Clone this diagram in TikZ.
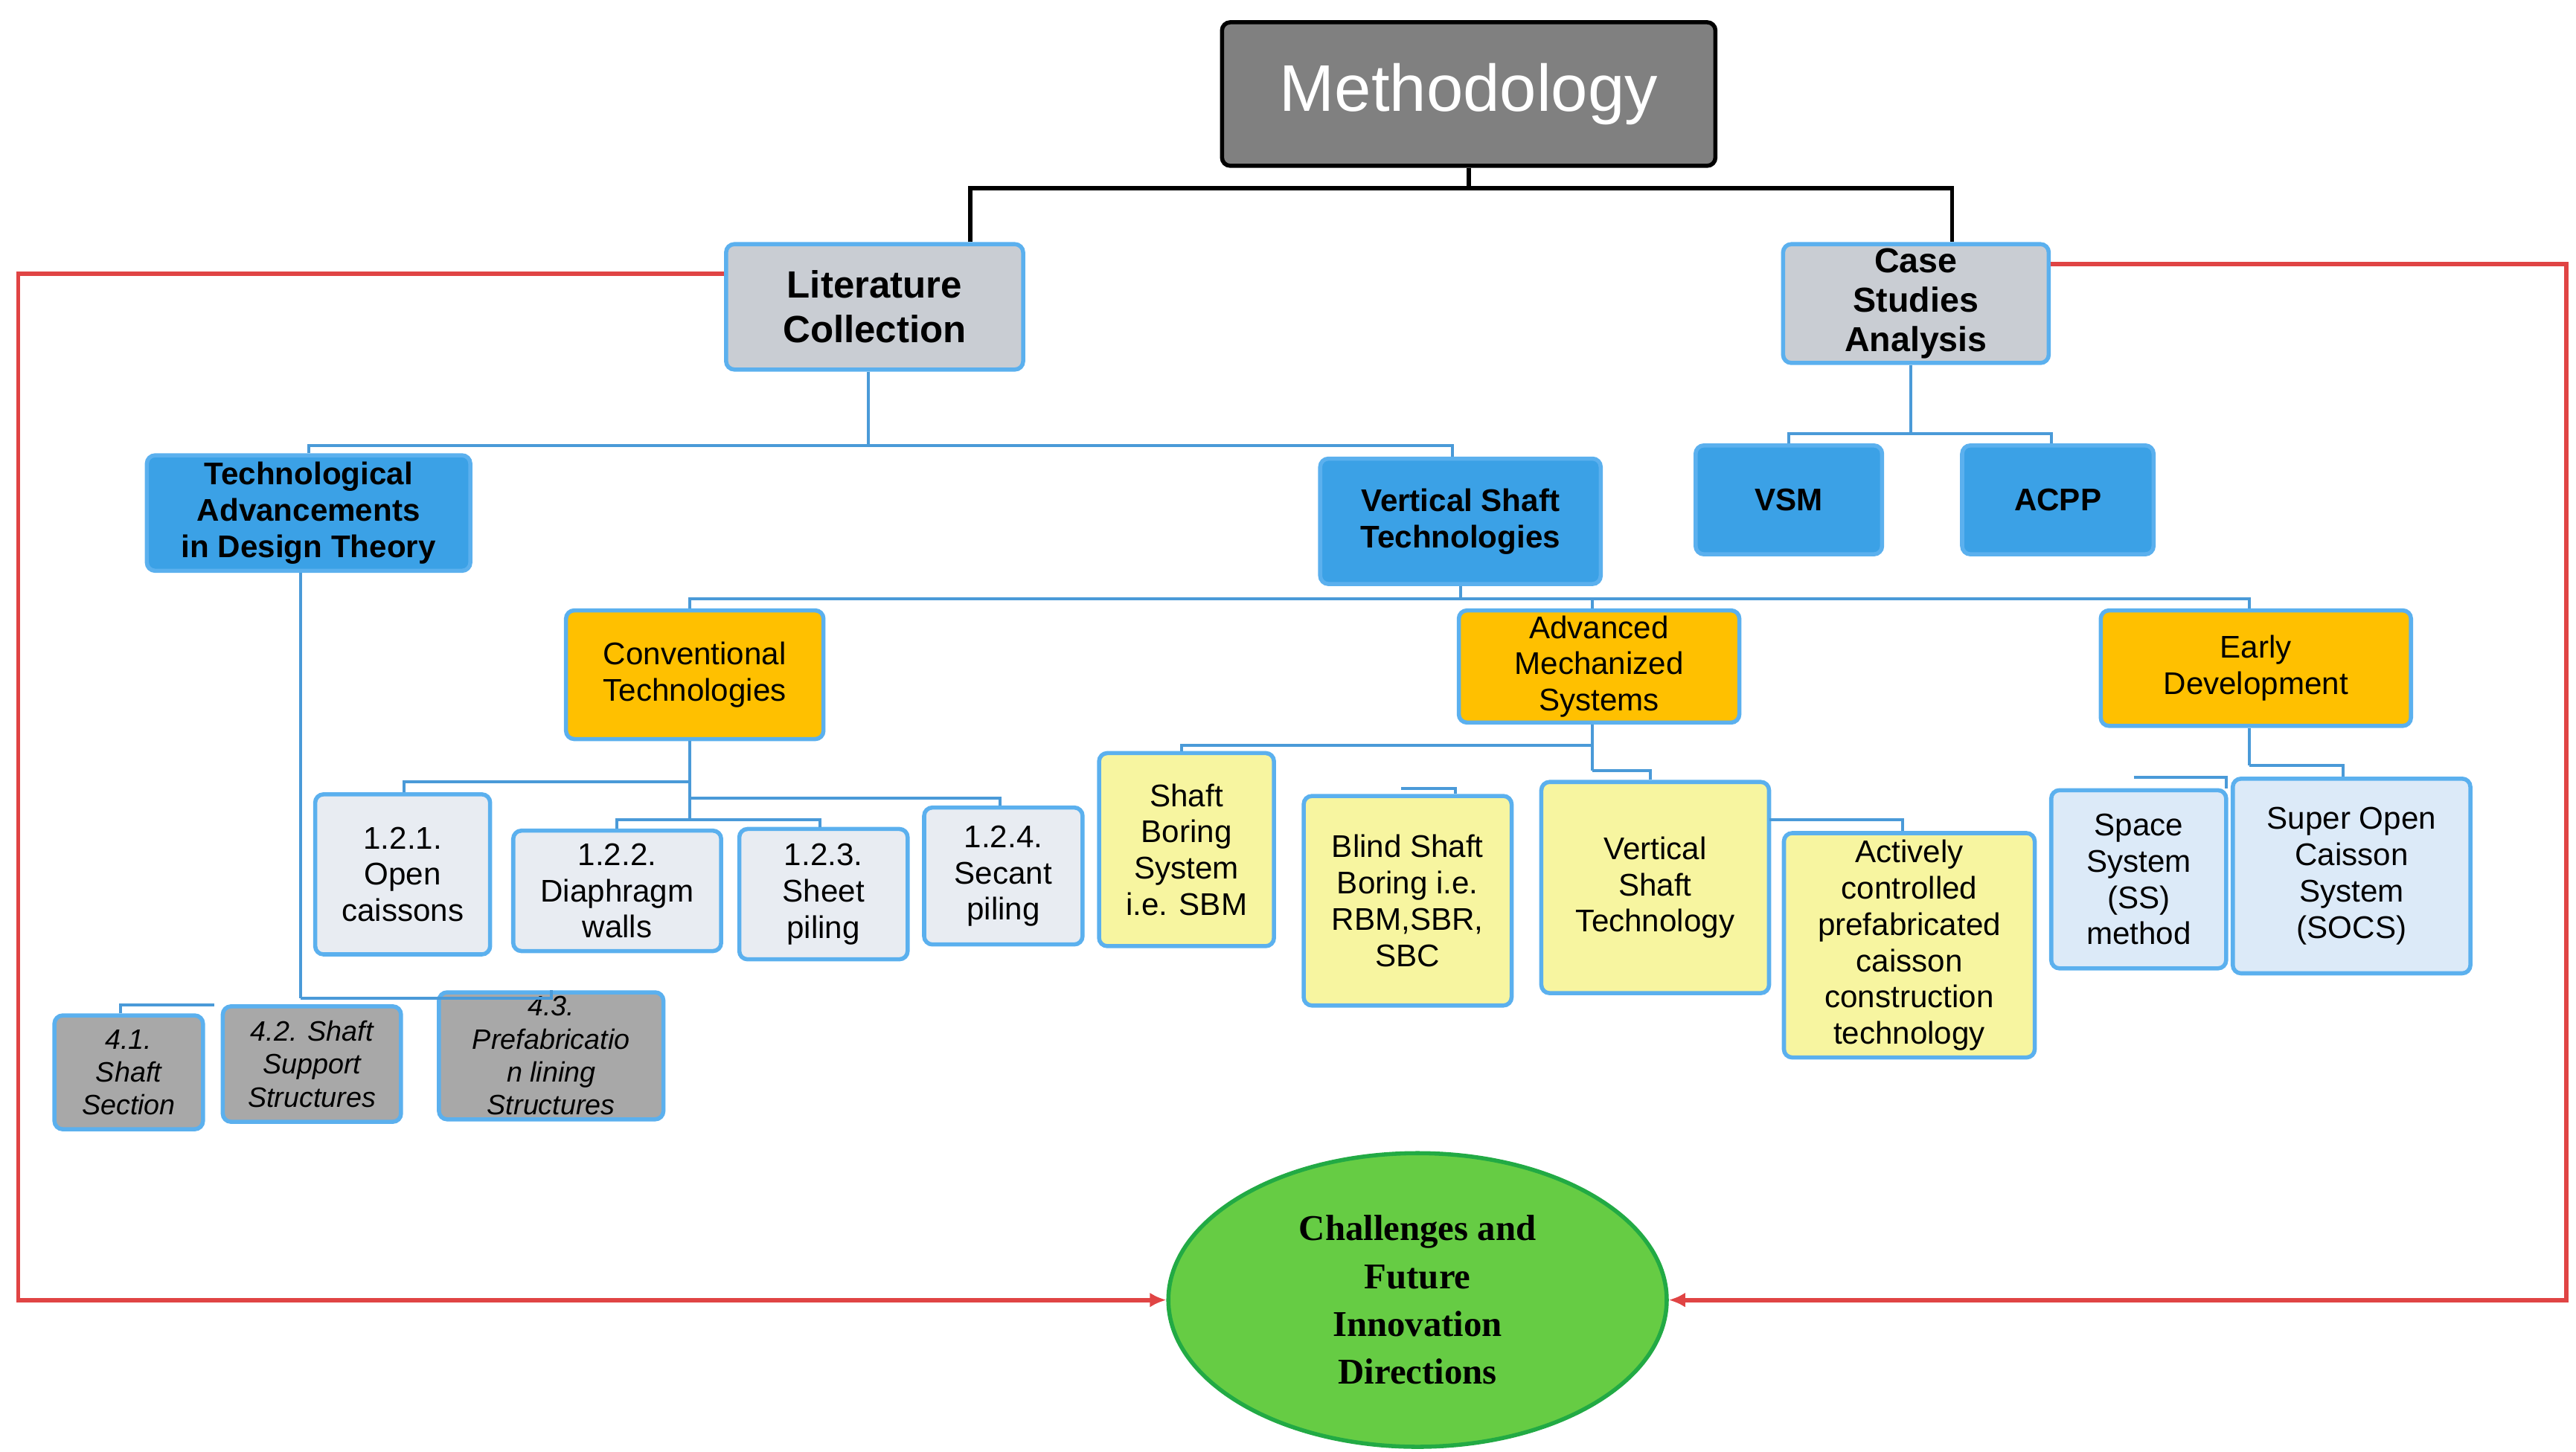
\documentclass[tikz,border=0pt]{standalone}
\usepackage{fontspec}
\setmainfont{Liberation Sans}
\newfontfamily\serifb{Liberation Serif}
\usetikzlibrary{shapes.geometric,arrows.meta}
\definecolor{bord}{HTML}{5BB0EE}
\definecolor{grayb}{HTML}{C9CDD3}
\definecolor{blueb}{HTML}{3BA1E6}
\definecolor{yel}{HTML}{FFC000}
\definecolor{lyel}{HTML}{F7F5A0}
\definecolor{lgray}{HTML}{E8ECF2}
\definecolor{lblue}{HTML}{DCEAF8}
\definecolor{dgray}{HTML}{A8A8A8}
\definecolor{conn}{HTML}{4A9AD8}
\definecolor{redl}{HTML}{E04444}
\definecolor{meth}{HTML}{808080}
\definecolor{grn}{HTML}{66CC44}
\definecolor{grnb}{HTML}{22AA44}
\begin{document}
\begin{tikzpicture}[x=1pt,y=-1pt,
 bx/.style={draw=bord,line width=2.5pt,rounded corners=5pt,align=center,inner sep=0pt,text=black},
 cn/.style={draw=conn,line width=1.8pt},
 rd/.style={draw=redl,line width=2.6pt},
 n19/.style={font=\fontsize{19}{22}\selectfont},
 b19/.style={font=\fontsize{19}{22}\selectfont\bfseries},
 i17/.style={font=\fontsize{17}{20}\selectfont\itshape}]
\useasboundingbox (0,0) rectangle (1561,880);
\node[bx,draw=black,fill=meth,minimum width=299,minimum height=87,text=white,font=\fontsize{40}{46}\selectfont] (meth) at (890,57) {Methodology};
\node[bx,fill=grayb,minimum width=180,minimum height=76,font=\fontsize{23}{27}\selectfont\bfseries] (lit) at (530,186) {Literature\\Collection};
\node[bx,fill=grayb,minimum width=161,minimum height=72,font=\fontsize{21}{24}\selectfont\bfseries] (case) at (1161,184) {Case\\Studies\\Analysis};
\node[bx,fill=blueb,minimum width=196,minimum height=70,b19] (tech) at (187,311) {Technological\\Advancements\\in Design Theory};
\node[bx,fill=blueb,minimum width=170,minimum height=76,b19] (vst) at (885,316) {Vertical Shaft\\Technologies};
\node[bx,fill=blueb,minimum width=113,minimum height=66,b19] (vsm) at (1084,303) {VSM};
\node[bx,fill=blueb,minimum width=116,minimum height=66,b19] (acpp) at (1247,303) {ACPP};
\node[bx,fill=yel,minimum width=156,minimum height=78,n19] (conv) at (421,409) {Conventional\\Technologies};
\node[bx,fill=yel,minimum width=170,minimum height=68,n19] (adv) at (969,404) {Advanced\\Mechanized\\Systems};
\node[bx,fill=yel,minimum width=188,minimum height=70,n19] (early) at (1367,405) {Early\\Development};
\node[bx,fill=lgray,minimum width=106,minimum height=97,n19] (c1) at (244,530) {1.2.1.\\Open\\caissons};
\node[bx,fill=lgray,minimum width=126,minimum height=73,n19] (c2) at (374,540) {1.2.2.\\Diaphragm\\walls};
\node[bx,fill=lgray,minimum width=102,minimum height=79,n19] (c3) at (499,542) {1.2.3.\\Sheet\\piling};
\node[bx,fill=lgray,minimum width=96,minimum height=83,n19] (c4) at (608,531) {1.2.4.\\Secant\\piling};
\node[bx,fill=lyel,minimum width=106,minimum height=117,n19] (a1) at (719,515) {Shaft\\Boring\\System\\i.e. SBM};
\node[bx,fill=lyel,minimum width=126,minimum height=127,n19] (a2) at (853,546) {Blind Shaft\\Boring i.e.\\RBM,SBR,\\SBC};
\node[bx,fill=lyel,minimum width=138,minimum height=128,n19] (a3) at (1003,538) {Vertical\\Shaft\\Technology};
\node[bx,fill=lyel,minimum width=152,minimum height=136,n19] (a4) at (1157,573) {Actively\\controlled\\prefabricated\\caisson\\construction\\technology};
\node[bx,fill=lblue,minimum width=106,minimum height=108,n19] (e1) at (1296,533) {Space\\System\\(SS)\\method};
\node[bx,fill=lblue,minimum width=144,minimum height=118,n19] (e2) at (1425,531) {Super Open\\Caisson\\System\\(SOCS)};
\node[bx,fill=dgray,minimum width=90,minimum height=69,i17] (t1) at (78,650) {4.1.\\Shaft\\Section};
\node[bx,fill=dgray,minimum width=108,minimum height=70,i17] (t2) at (189,645) {4.2. Shaft\\Support\\Structures};
\node[bx,fill=dgray,minimum width=136,minimum height=77,i17] (t3) at (334,640) {4.3.\\Prefabricatio\\n lining\\Structures};
\node[ellipse,draw=grnb,line width=2.5pt,fill=grn,minimum width=302,minimum height=178,align=center,inner sep=0pt,font=\serifb\fontsize{22}{29}\selectfont\bfseries] (ch) at (859,788) {Challenges and\\Future\\Innovation\\Directions};
% black connectors
\coordinate (m1) at (890,114);
\draw[line width=2.5pt] (meth.south) -- (m1);
\draw[line width=2.5pt] (lit.north-|588,0) |- (m1) -| (case.north-|1183,0);
% blue connectors
\coordinate (l1) at (526,270);
\draw[cn] (lit.south-|l1) -- (l1);
\draw[cn] (tech.north-|187,0) -- (187,270) -- (880,270) -- (vst.north-|880,0);
\coordinate (k1) at (1158,263);
\draw[cn] (case.south-|k1) -- (k1);
\draw[cn] (vsm.north-|1084,0) -- (1084,263) -- (1243,263) -- (acpp.north-|1243,0);
\coordinate (v1) at (885,363);
\draw[cn] (vst.south) -- (v1);
\draw[cn] (conv.north-|418,0) -- (418,363) -- (1363,363) -- (early.north-|1363,0);
\draw[cn] (965,363) -- (adv.north-|965,0);
\coordinate (cv1) at (418,497);
\draw[cn] (conv.south-|cv1) -- (cv1);
\draw[cn] (c1.north-|245,0) -- (245,474) -- (418,474);
\draw[cn] (418,484) -- (606,484) -- (c4.north-|606,0);
\draw[cn] (c2.north-|374,0) -- (374,497) -- (497,497) -- (c3.north-|497,0);
\coordinate (ad1) at (965,467);
\draw[cn] (adv.south-|ad1) -- (ad1);
\draw[cn] (a1.north-|716,0) -- (716,452) -- (965,452);
\draw[cn] (849,478) -- (882,478) -- (a2.north-|882,0);
\draw[cn] (965,467) -- (1000,467) -- (a3.north-|1000,0);
\draw[cn] (1072,497) -- (1153,497) -- (a4.north-|1153,0);
\coordinate (ea1) at (1363,464);
\draw[cn] (early.south-|ea1) -- (ea1);
\draw[cn] (1293,471) -- (1349,471) -- (e1.north-|1349,0);
\draw[cn] (1363,464) -- (1420,464) -- (e2.north-|1420,0);
\coordinate (tc1) at (182,605);
\draw[cn] (tech.south-|tc1) -- (tc1);
\draw[cn] (t1.north-|73,0) -- (73,609) -- (130,609);
\draw[cn] (182,605) -- (334,605) -- (t3.north-|334,0);
% red
\draw[rd,-{Latex[length=10pt,width=9pt]}] (lit.west|-0,166) -- (11,166) |- (ch.west);
\draw[rd,-{Latex[length=10pt,width=9pt]}] (case.east|-0,160) -- (1555,160) |- (ch.east);
\end{tikzpicture}
\end{document}
